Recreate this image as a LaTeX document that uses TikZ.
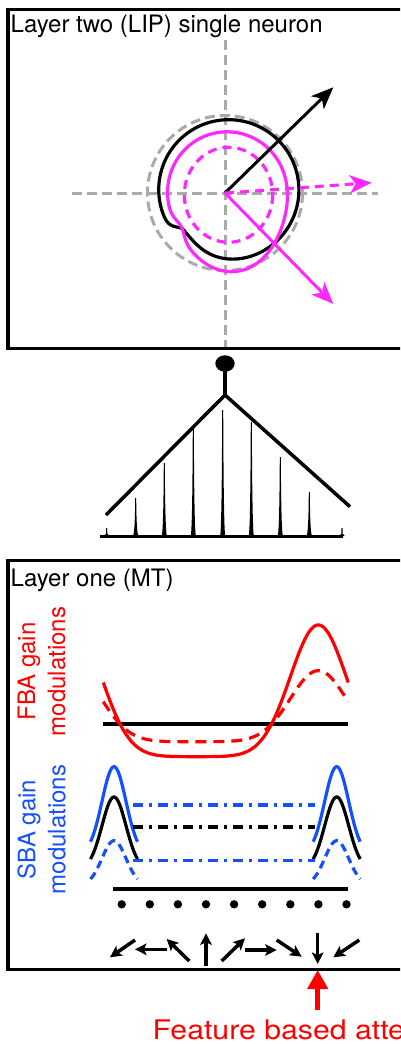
\documentclass[tikz,border=0pt]{standalone}
\usepackage{fontspec}
\setmainfont{TeX Gyre Heros}
\usetikzlibrary{arrows.meta}
\definecolor{mag}{RGB}{255,40,255}
\definecolor{sbablue}{RGB}{20,80,255}
\definecolor{fbared}{RGB}{255,0,0}
\definecolor{axgray}{RGB}{170,170,170}
\tikzset{
  panel/.style={draw=black, line width=3.3pt},
  axisline/.style={draw=axgray, line width=3pt, dash pattern=on 10pt off 5pt},
  curve/.style={line width=3.2pt},
  bigarrow/.style={line width=3pt, -{Stealth[length=22pt,width=18pt,inset=6pt]}},
  smallarrow/.style={line width=3.5pt, -{Stealth[length=11.5pt,width=11.5pt,inset=2.5pt]}},
  dashdot/.style={line width=3.3pt, dash pattern=on 10pt off 5.5pt on 3.5pt off 6pt},
  labeltext/.style={inner sep=0pt, font=\fontsize{24}{30}\selectfont},
  declare function={
    rb(\t)=70+5*cos(\t-40)-9.5*exp(max(-9,ifthenelse(\t<221,90,6)*(cos(\t-221)-1)));
    rm(\t)=59+3*cos(\t-45)+22*exp(max(-9,3.3*(cos(\t-278)-1)))-5*exp(max(-9,40*(cos(\t-218)-1)));
    fg(\x)=exp(max(-9,-0.5*((\x-318.3)/28)*((\x-318.3)/28)))+exp(max(-9,-0.5*((\x-73.3)/28)*((\x-73.3)/28)));
    bump(\x,\c)=exp(-0.5*((\x-\c)/12)*((\x-\c)/12));
  }
}
\begin{document}
\begin{tikzpicture}[x=1pt,y=-1pt]
\useasboundingbox (0,0) rectangle (400,1044);
\clip (0,0) rectangle (400,1044);

% ---------- top panel ----------
\draw[panel] (8,9.3) rectangle (440,348.5);
\node[labeltext, anchor=base west] (title2) at (10.5,32.3) {Layer two (LIP) single neuron};

\coordinate (c) at (225,193);
\coordinate (hl) at (72,193);
\coordinate (hr) at (378,193);
\coordinate (vt) at (225,40);
\coordinate (vb) at (225,347);
\draw[axisline] (hl) -- (hr);
\draw[axisline] (vt) -- (vb);
\draw[axisline] (c) circle[radius=77.5];

\draw[curve, black] plot[variable=\t, domain=0:360, samples=361]
  ({225+rb(\t)*cos(\t)}, {193-rb(\t)*sin(\t)}) -- cycle;
\draw[curve, mag] plot[variable=\t, domain=0:360, samples=361]
  ({225+rm(\t)*cos(\t)}, {193-rm(\t)*sin(\t)}) -- cycle;
\draw[curve, mag, dash pattern=on 9pt off 6pt] (228.5,194.8) ellipse [x radius=44.2, y radius=47.5];

\coordinate (tipk) at (333.3,87.3);
\coordinate (tipm) at (333.3,304);
\coordinate (tipd) at (371.7,182.7);
\draw[bigarrow, black] (c) -- (tipk);
\draw[bigarrow, mag] (c) -- (tipm);
\draw[bigarrow, mag, dash pattern=on 9pt off 6pt] (c) -- (tipd);

% ---------- middle: pooling ----------
\coordinate (soma) at (225,363.5);
\coordinate (apex) at (225,395);
\coordinate (legl) at (106,515);
\coordinate (legr) at (350,506.7);
\fill[black] (soma) ellipse [x radius=9.7, y radius=8.2];
\draw[line width=4.3pt] (soma) -- (apex);
\draw[line width=3.5pt, line join=miter] (legl) -- (apex) -- (legr);
\draw[line width=2.3pt] (100,536.5) -- (343,536.5);
\foreach \sx/\sy in {106.7/528,135.7/498,164.3/463,193.3/428,222.7/410,251.3/422,280.3/457,309.3/492,342/528}{
  \fill[black] (\sx-2.6,536) .. controls (\sx-0.8,531) and (\sx-0.6,{\sy+12}) .. (\sx-0.5,\sy)
    -- (\sx+0.5,\sy) .. controls (\sx+0.6,{\sy+12}) and (\sx+0.8,531) .. (\sx+2.6,536) -- cycle;
}

% ---------- lower panel ----------
\draw[panel] (8,560.7) rectangle (440,969.5);
\node[labeltext, anchor=base west] (title1) at (10.5,586) {Layer one (MT)};
\node[labeltext, rotate=90, align=center, text=fbared] (fba) at (41.5,671.5) {FBA gain\\modulations};
\node[labeltext, rotate=90, align=center, text=sbablue] (sba) at (41.5,829.5) {SBA gain\\modulations};

% FBA curves
\coordinate (fl) at (103.3,724.3);
\coordinate (fr) at (347.7,724.3);
\draw[line width=4.3pt] (fl) -- (fr);
\draw[curve, fbared] plot[domain=103.3:348.3, samples=200] (\x, {756.7-131.7*fg(\x)});
\draw[curve, fbared, dash pattern=on 11pt off 7pt] plot[domain=103.3:348.3, samples=200] (\x, {741.7-71*fg(\x)});

% SBA curves
\foreach \cc in {114,336.7}{
  \draw[curve, sbablue] plot[domain={\cc-23.5}:{\cc+23.5}, samples=60] (\x, {854.6-87.9*bump(\x,\cc)});
  \draw[curve, black] plot[domain={\cc-23.5}:{\cc+23.5}, samples=60] (\x, {869.7-72.7*bump(\x,\cc)});
  \draw[curve, sbablue, dash pattern=on 8pt off 5pt] plot[domain={\cc-23.5}:{\cc+23.5}, samples=60] (\x, {885.6-44.9*bump(\x,\cc)});
}
\coordinate (d1l) at (133.3,805);
\coordinate (d1r) at (315,805);
\coordinate (d2l) at (133.3,827);
\coordinate (d2r) at (315,827);
\coordinate (d3l) at (133.3,860.5);
\coordinate (d3r) at (315,860.5);
\draw[dashdot, sbablue] (d1l) -- (d1r);
\draw[dashdot, black] (d2l) -- (d2r);
\draw[dashdot, sbablue] (d3l) -- (d3r);

\coordinate (bl) at (113.3,889.3);
\coordinate (br) at (348.3,889.3);
\draw[line width=4.3pt] (bl) -- (br);
\foreach \i in {0,...,8}{
  \fill[black] ({121.7+28.1*\i},904.3) circle[radius=4.2];
}

% direction arrows
\draw[smallarrow] (135,940) -- (110,957.3);
\draw[smallarrow] (166.7,949.3) -- (135,949.3);
\draw[smallarrow] (189.3,961) -- (166.7,939);
\draw[smallarrow] (206,966) -- (206,933.3);
\draw[smallarrow] (221.7,961) -- (245,938.3);
\draw[smallarrow] (245,950) -- (276.7,950);
\draw[smallarrow] (276.7,940) -- (301.7,956.7);
\draw[smallarrow] (317.7,933.3) -- (317.7,964);
\draw[smallarrow] (359.3,940) -- (333.3,957.3);

% feature based attention
\coordinate (rb) at (317.7,1010);
\coordinate (rt) at (317.7,970);
\draw[fbared, line width=4.5pt, -{Triangle[length=19pt,width=20pt]}] (rb) -- (rt);
\node[inner sep=0pt, anchor=base west, text=fbared, font=\fontsize{27}{32}\selectfont] (fat) at (152.5,1039) {\scalebox{1.12}[1]{Feature based attention}};
\end{tikzpicture}
\end{document}
